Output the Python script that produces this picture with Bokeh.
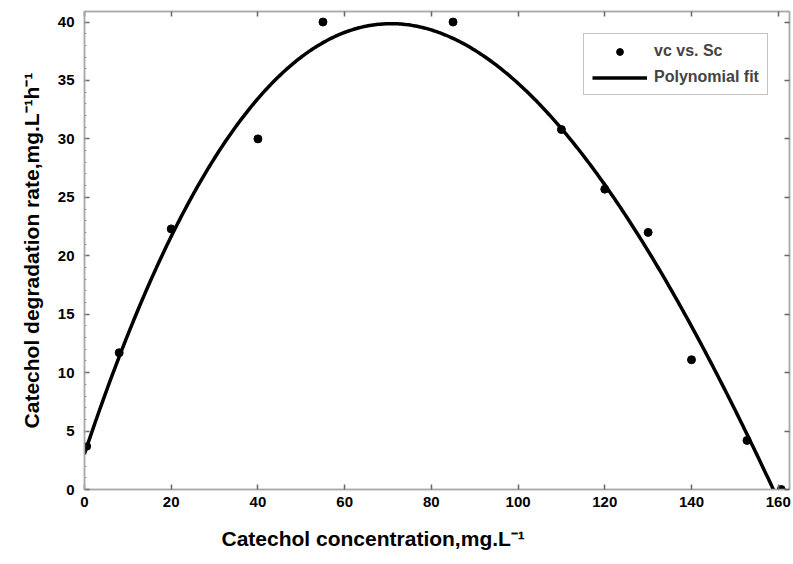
import numpy as np
from bokeh.plotting import figure
from bokeh.models import (LinearAxis, Range1d, Legend, LegendItem, Title, FixedTicker,
                          CustomLabelingPolicy)
from bokeh.embed import file_html
from bokeh.resources import INLINE

# Data
conc = [0.5, 8, 20, 40, 55, 85, 110, 120, 130, 140, 152.8, 160.7]
rate = [3.7, 11.7, 22.3, 30.0, 40.0, 40.0, 30.8, 25.7, 22.0, 11.1, 4.2, 0.0]
x_ticks = [0, 20, 40, 60, 80, 100, 120, 140, 160]
y_ticks = [0, 5, 10, 15, 20, 25, 30, 35, 40]
x_label = "Catechol concentration,mg.L\u207b\u00b9"
y_label = "Catechol degradation rate,mg.L\u207b\u00b9h\u207b\u00b9"
series_label = "vc vs. Sc"
fit_label = "Polynomial fit"

# Polynomial fit computed from the data
coef = np.polyfit(conc, rate, 3)
fit_x = np.linspace(0, 162, 400)
fit_y = np.polyval(coef, fit_x)

FONT = "Liberation Sans"

p = figure(width=793, height=564, output_backend="svg", toolbar_location=None,
           x_range=Range1d(0, 162.6), y_range=Range1d(0, 40.9),
           min_border_left=84, min_border_right=0, min_border_top=11, min_border_bottom=75)
p.xgrid.visible = False
p.ygrid.visible = False
p.outline_line_color = "#aaaaaa"
p.outline_line_width = 1.5
p.background_fill_color = "white"

fit_r = p.line(fit_x, fit_y, line_color="black", line_width=3.5)
pts_r = p.scatter(conc, rate, size=8, fill_color="black", line_color="black")

for ax in p.xaxis + p.yaxis:
    ax.axis_line_color = "#aaaaaa"
    ax.axis_line_width = 1.5
    ax.major_tick_in = 5
    ax.major_tick_out = 0
    ax.major_tick_line_color = "#666666"
    ax.major_tick_line_width = 1.5
    ax.minor_tick_in = 2
    ax.minor_tick_out = 0
    ax.minor_tick_line_color = "#999999"
    ax.major_label_text_font = FONT
    ax.major_label_text_font_style = "bold"
    ax.major_label_text_font_size = "15px"
    ax.major_label_text_color = "black"

p.xaxis.ticker = FixedTicker(ticks=x_ticks)
p.yaxis.ticker = FixedTicker(ticks=y_ticks, minor_ticks=list(np.arange(0, 41, 1.0)))
p.xaxis.major_label_standoff = 7
p.yaxis.major_label_standoff = 10
p.yaxis.axis_label = y_label
p.yaxis.axis_label_text_font = FONT
p.yaxis.axis_label_text_font_style = "bold"
p.yaxis.axis_label_text_font_size = "21px"
p.yaxis.axis_label_text_color = "black"
p.yaxis.axis_label_standoff = 12

no_labels = CustomLabelingPolicy(code="""
for (let i = 0; i < indices.size; i++) { indices.unset(i) }
return indices
""")

# mirrored ticks on top / right (no labels)
top = LinearAxis(ticker=FixedTicker(ticks=x_ticks), major_label_policy=no_labels,
                 major_label_text_font_size="1px",
                 major_tick_in=5, major_tick_out=0, major_label_standoff=0,
                 axis_line_color="#aaaaaa", axis_line_width=1.5,
                 major_tick_line_color="#666666", major_tick_line_width=1.5)
right = LinearAxis(ticker=FixedTicker(ticks=y_ticks), major_label_policy=no_labels,
                   major_label_text_font_size="1px",
                   major_tick_in=5, major_tick_out=0, major_label_standoff=0,
                   axis_line_color="#aaaaaa", axis_line_width=1.5,
                   major_tick_line_color="#666666", major_tick_line_width=1.5)
p.add_layout(top, "above")
p.add_layout(right, "right")

p.add_layout(Title(text=x_label, align="left", offset=137, text_font=FONT, text_color="black",
                   text_font_style="bold", text_font_size="21px", standoff=30), "below")

legend = Legend(items=[LegendItem(label=series_label, renderers=[pts_r]),
                       LegendItem(label=fit_label, renderers=[fit_r])],
                location=(499, 394), border_line_color="#888888", border_line_width=1.5,
                label_text_font=FONT, label_text_font_style="bold", label_text_font_size="16px",
                glyph_width=55, glyph_height=17, spacing=8, padding=8, margin=0,
                label_standoff=7, background_fill_alpha=1)
p.add_layout(legend, "center")

open("out.html", "w").write(file_html(p, INLINE))
